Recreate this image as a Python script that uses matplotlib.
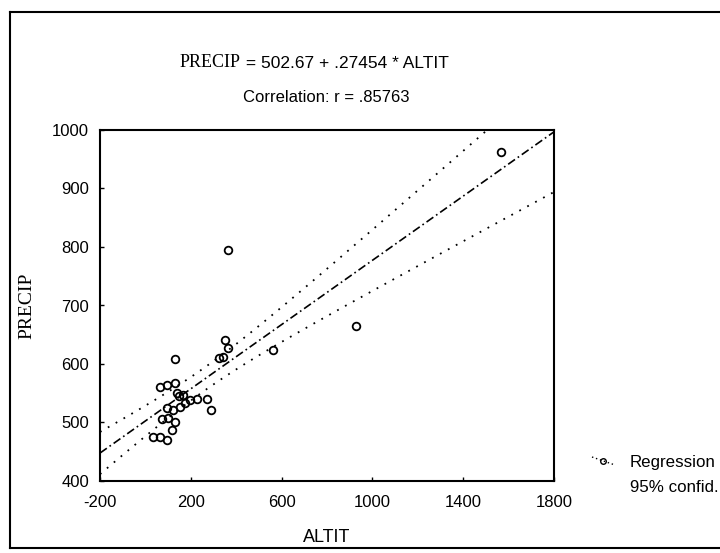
import numpy as np
import matplotlib
matplotlib.use("Agg")
import matplotlib.pyplot as plt
from matplotlib.lines import Line2D

# ---- data ----
altit = [1566, 926, 564, 365, 131,
         352, 362, 343, 325,
         65, 96, 131, 140, 150, 166, 197, 228, 272, 290,
         96, 122, 153, 175,
         34, 65, 96, 118, 131, 100, 74]
precip = [962, 665, 624, 795, 609,
          641, 627, 612, 610,
          561, 564, 567, 550, 545, 547, 538, 541, 541, 521,
          525, 521, 527, 533,
          475, 475, 470, 487, 501, 508, 506]
intercept = 502.67
slope = 0.27454
x_ticks = [-200, 200, 600, 1000, 1400, 1800]
y_ticks = [400, 500, 600, 700, 800, 900, 1000]

W, H = 720, 553
fig = plt.figure(figsize=(W / 100, H / 100), dpi=100)
fig.patch.set_facecolor("white")

def fx(px):
    return px / W

def fy(py):
    return 1 - py / H

ax = fig.add_axes([fx(100), fy(481), fx(554) - fx(100), fy(130) - fy(481)])

sans = "Liberation Sans"
serif = "Liberation Serif"

x = np.array(altit, dtype=float)
y = np.array(precip, dtype=float)
n = len(x)
xs = np.linspace(-200, 1800, 200)
yfit = intercept + slope * xs
res = y - (intercept + slope * x)
s = np.sqrt(np.sum(res ** 2) / (n - 2))
sxx = np.sum((x - x.mean()) ** 2)
t = 2.05
half = t * s * np.sqrt(1 / n + (xs - x.mean()) ** 2 / sxx)

ax.plot(xs, yfit, color="black", lw=1.2, linestyle=(0, (5, 2, 1, 2)))
ax.plot(xs, yfit + half, color="black", lw=1.3, linestyle=(0, (1, 4)))
ax.plot(xs, yfit - half, color="black", lw=1.3, linestyle=(0, (1, 4)))
ax.plot(x, y, linestyle="none", marker="o", markersize=5.5, markerfacecolor="none",
        markeredgecolor="black", markeredgewidth=1.3)

ax.set_xlim(-200, 1800)
ax.set_ylim(400, 1000)
ax.set_xticks(x_ticks)
ax.set_yticks(y_ticks)
ax.set_xticklabels([str(v) for v in x_ticks], fontfamily=sans, fontsize=12)
ax.set_yticklabels([str(v) for v in y_ticks], fontfamily=sans, fontsize=12)
ax.tick_params(axis="both", direction="in", length=3, width=1)
ax.tick_params(axis="x", pad=10)
ax.tick_params(axis="y", pad=8)
for sp in ax.spines.values():
    sp.set_linewidth(1.5)

ax.set_xlabel("ALTIT", fontfamily=sans, fontsize=13, labelpad=14)
ax.set_ylabel("PRECIP", fontfamily=serif, fontsize=14, labelpad=12)

# title (mixed fonts)
t1 = fig.text(fx(180), fy(63), "PRECIP", fontfamily=serif, fontsize=13,
              ha="left", va="center")
ax.annotate(" = 502.67 + .27454 * ALTIT", xy=(1, 0), xycoords=t1,
            fontfamily=sans, fontsize=12.5, ha="left", va="bottom")
fig.text(fx(326), fy(97), "Correlation: r = .85763", fontfamily=sans, fontsize=12,
         ha="center", va="center")

# legend
fig.add_artist(Line2D([fx(592), fx(615)], [fy(457), fy(465)], color="black", lw=1,
                      linestyle=(0, (1, 2))))
fig.add_artist(Line2D([fx(603)], [fy(461)], marker="o", markersize=4,
                      markerfacecolor="none", markeredgecolor="black", linestyle="none"))
fig.text(fx(630), fy(462), "Regression", fontfamily=sans, fontsize=12.2,
         ha="left", va="center")
fig.text(fx(630), fy(487), "95% confid.", fontfamily=sans, fontsize=12.2,
         ha="left", va="center")

# outer frame
for xs_, ys_ in [([10, 10], [12, 548]), ([10, 720], [12, 12]), ([10, 720], [548, 548])]:
    fig.add_artist(Line2D([fx(v) for v in xs_], [fy(v) for v in ys_], color="black", lw=1.5))

fig.savefig("out.png", dpi=100)
